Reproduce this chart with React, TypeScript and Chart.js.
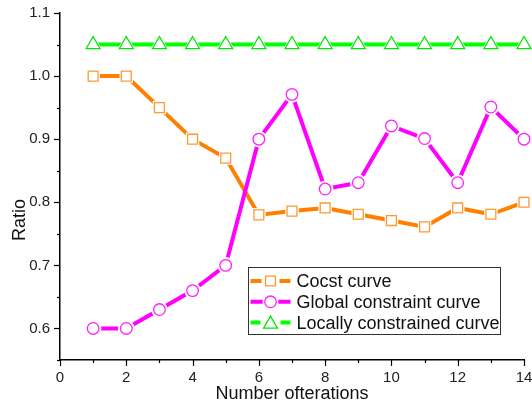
import React, { useEffect, useRef } from 'react';
import { Chart, registerables } from 'chart.js';

Chart.register(...registerables);

const iterations = [1, 2, 3, 4, 5, 6, 7, 8, 9, 10, 11, 12, 13, 14];
const costCurve = [1.0, 1.0, 0.95, 0.9, 0.87, 0.78, 0.786, 0.791, 0.781, 0.771, 0.761, 0.791, 0.781, 0.8];
const globalCurve = [0.6, 0.6, 0.63, 0.66, 0.7, 0.9, 0.971, 0.821, 0.831, 0.921, 0.901, 0.831, 0.951, 0.9];
const localCurve = [1.05, 1.05, 1.05, 1.05, 1.05, 1.05, 1.05, 1.05, 1.05, 1.05, 1.05, 1.05, 1.05, 1.05];
const seriesNames = ['Cocst curve', 'Global constraint curve', 'Locally constrained curve'];
const xTitle = 'Number ofterations';
const yTitle = 'Ratio';

const FONT = '"Liberation Sans", Arial, Helvetica, sans-serif';

type Series = {
  name: string;
  values: number[];
  line: string;
  marker: string;
  style: 'rect' | 'circle' | 'triangle';
  radius: number;
};

const series: Series[] = [
  { name: seriesNames[0], values: costCurve, line: '#FF8000', marker: '#FF9933', style: 'rect', radius: 7 },
  { name: seriesNames[1], values: globalCurve, line: '#FF00FF', marker: '#FF22FF', style: 'circle', radius: 5.8 },
  { name: seriesNames[2], values: localCurve, line: '#00FF00', marker: '#00E600', style: 'triangle', radius: 8 },
];

function shapePath(ctx: CanvasRenderingContext2D, style: string, x: number, y: number, r: number) {
  ctx.beginPath();
  if (style === 'rect') {
    const s = Math.SQRT1_2 * r;
    ctx.rect(x - s, y - s, 2 * s, 2 * s);
  } else if (style === 'circle') {
    ctx.arc(x, y, r, 0, Math.PI * 2);
  } else {
    const h = Math.sin((Math.PI * 2) / 3) * r;
    ctx.moveTo(x, y - r);
    ctx.lineTo(x + h, y + r / 2);
    ctx.lineTo(x - h, y + r / 2);
    ctx.closePath();
  }
}

const axisDecor = {
  id: 'axisDecor',
  afterDraw(chart: any) {
    const ctx: CanvasRenderingContext2D = chart.ctx;
    const area = chart.chartArea;
    const xs = chart.scales.x;
    const ys = chart.scales.y;
    ctx.save();
    ctx.strokeStyle = '#000';
    ctx.lineWidth = 1.2;
    xs.ticks.forEach((t: any) => {
      const px = Math.round(xs.getPixelForValue(t.value)) + 0.5;
      const major = Math.round(t.value) % 2 === 0;
      ctx.beginPath();
      ctx.moveTo(px, area.bottom);
      ctx.lineTo(px, area.bottom + (major ? 6 : 3));
      ctx.stroke();
    });
    ys.ticks.forEach((t: any) => {
      const py = Math.round(ys.getPixelForValue(t.value)) + 0.5;
      const major = Math.round(t.value * 100) % 10 === 0;
      ctx.beginPath();
      ctx.moveTo(area.left, py);
      ctx.lineTo(area.left - (major ? 6 : 3), py);
      ctx.stroke();
    });

    // axis titles
    ctx.fillStyle = '#111';
    ctx.font = `18px ${FONT}`;
    ctx.textAlign = 'center';
    ctx.textBaseline = 'alphabetic';
    ctx.fillText(xTitle, (area.left + area.right) / 2, area.bottom + 39);
    ctx.translate(area.left - 35, area.top + 207);
    ctx.rotate(-Math.PI / 2);
    ctx.fillText(yTitle, 0, 0);
    ctx.restore();

    // legend
    ctx.save();
    const bx = area.left + 188.5;
    const by = area.top + 254.5;
    const bw = 252;
    const bh = 67;
    ctx.fillStyle = '#fff';
    ctx.fillRect(bx, by, bw, bh);
    ctx.strokeStyle = '#333';
    ctx.lineWidth = 1;
    ctx.strokeRect(bx, by, bw, bh);
    series.forEach((s, i) => {
      const cy = by + 13.5 + i * 20.8;
      const cx = bx + 22;
      ctx.strokeStyle = s.line;
      ctx.lineWidth = 4;
      ctx.beginPath();
      ctx.moveTo(bx + 2, cy);
      ctx.lineTo(cx - s.radius - 2, cy);
      ctx.moveTo(cx + s.radius + 2, cy);
      ctx.lineTo(bx + 42, cy);
      ctx.stroke();
      shapePath(ctx, s.style, cx, s.style === 'triangle' ? cy + 1.5 : cy, s.radius);
      ctx.fillStyle = '#fff';
      ctx.fill();
      ctx.strokeStyle = s.marker;
      ctx.lineWidth = 1.3;
      ctx.stroke();
      ctx.fillStyle = '#111';
      ctx.font = `18px ${FONT}`;
      ctx.textAlign = 'left';
      ctx.textBaseline = 'middle';
      ctx.fillText(s.name, bx + 48, cy + 1);
    });
    ctx.restore();
  },
};

export default function App() {
  const ref = useRef<HTMLCanvasElement | null>(null);

  useEffect(() => {
    if (!ref.current) return;
    const datasets: any[] = [];
    let order = 100;
    series.forEach((s) => {
      const pts = iterations.map((x, i) => ({ x, y: s.values[i] }));
      datasets.push({
        label: s.name,
        data: pts,
        borderColor: s.line,
        borderWidth: 4,
        pointRadius: 0,
        fill: false,
        tension: 0,
        clip: false,
        order: order--,
      });
      datasets.push({
        label: s.name + ' gap',
        data: pts,
        showLine: false,
        pointStyle: s.style,
        pointRadius: s.radius + 2.5,
        pointBackgroundColor: '#fff',
        pointBorderColor: '#fff',
        pointBorderWidth: 0,
        clip: false,
        order: order--,
      });
      datasets.push({
        label: s.name + ' marker',
        data: pts,
        showLine: false,
        pointStyle: s.style,
        pointRadius: s.radius,
        pointBackgroundColor: '#fff',
        pointBorderColor: s.marker,
        pointBorderWidth: 1.3,
        clip: false,
        order: order--,
      });
    });

    const chart = new Chart(ref.current, {
      type: 'line',
      data: { datasets },
      plugins: [axisDecor],
      options: {
        animation: false,
        responsive: false,
        maintainAspectRatio: false,
        devicePixelRatio: 1,
        layout: { padding: { top: 13, right: 21, left: 0, bottom: 0 } },
        plugins: { legend: { display: false }, tooltip: { enabled: false } },
        elements: { line: { borderCapStyle: 'butt' } },
        scales: {
          x: {
            type: 'linear',
            min: 0,
            max: 14,
            afterFit: (s: any) => {
              s.height = 42;
            },
            ticks: {
              stepSize: 1,
              autoSkip: false,
              maxRotation: 0,
              padding: 3,
              color: '#222',
              font: { family: FONT, size: 15 },
              callback: (v: any) => (Math.round(v) % 2 === 0 ? String(v) : ''),
            },
            grid: { drawOnChartArea: false, drawTicks: true, tickLength: 6, tickColor: 'rgba(0,0,0,0)' },
            border: { display: true, color: '#000', width: 1.5 },
          },
          y: {
            type: 'linear',
            min: 0.55,
            max: 1.1,
            afterFit: (s: any) => {
              s.width = 60;
            },
            ticks: {
              stepSize: 0.05,
              autoSkip: false,
              padding: 4,
              color: '#222',
              font: { family: FONT, size: 15 },
              callback: (v: any) => (Math.round(v * 100) % 10 === 0 ? Number(v).toFixed(1) : ''),
            },
            grid: { drawOnChartArea: false, drawTicks: true, tickLength: 6, tickColor: 'rgba(0,0,0,0)' },
            border: { display: true, color: '#000', width: 1.5 },
          },
        },
      } as any,
    });
    return () => chart.destroy();
  }, []);

  return (
    <div style={{ position: 'fixed', left: 0, top: 0, width: 545, height: 402, overflow: 'hidden', background: '#fff' }}>
      <canvas ref={ref} width={545} height={402} style={{ display: 'block' }} />
    </div>
  );
}
